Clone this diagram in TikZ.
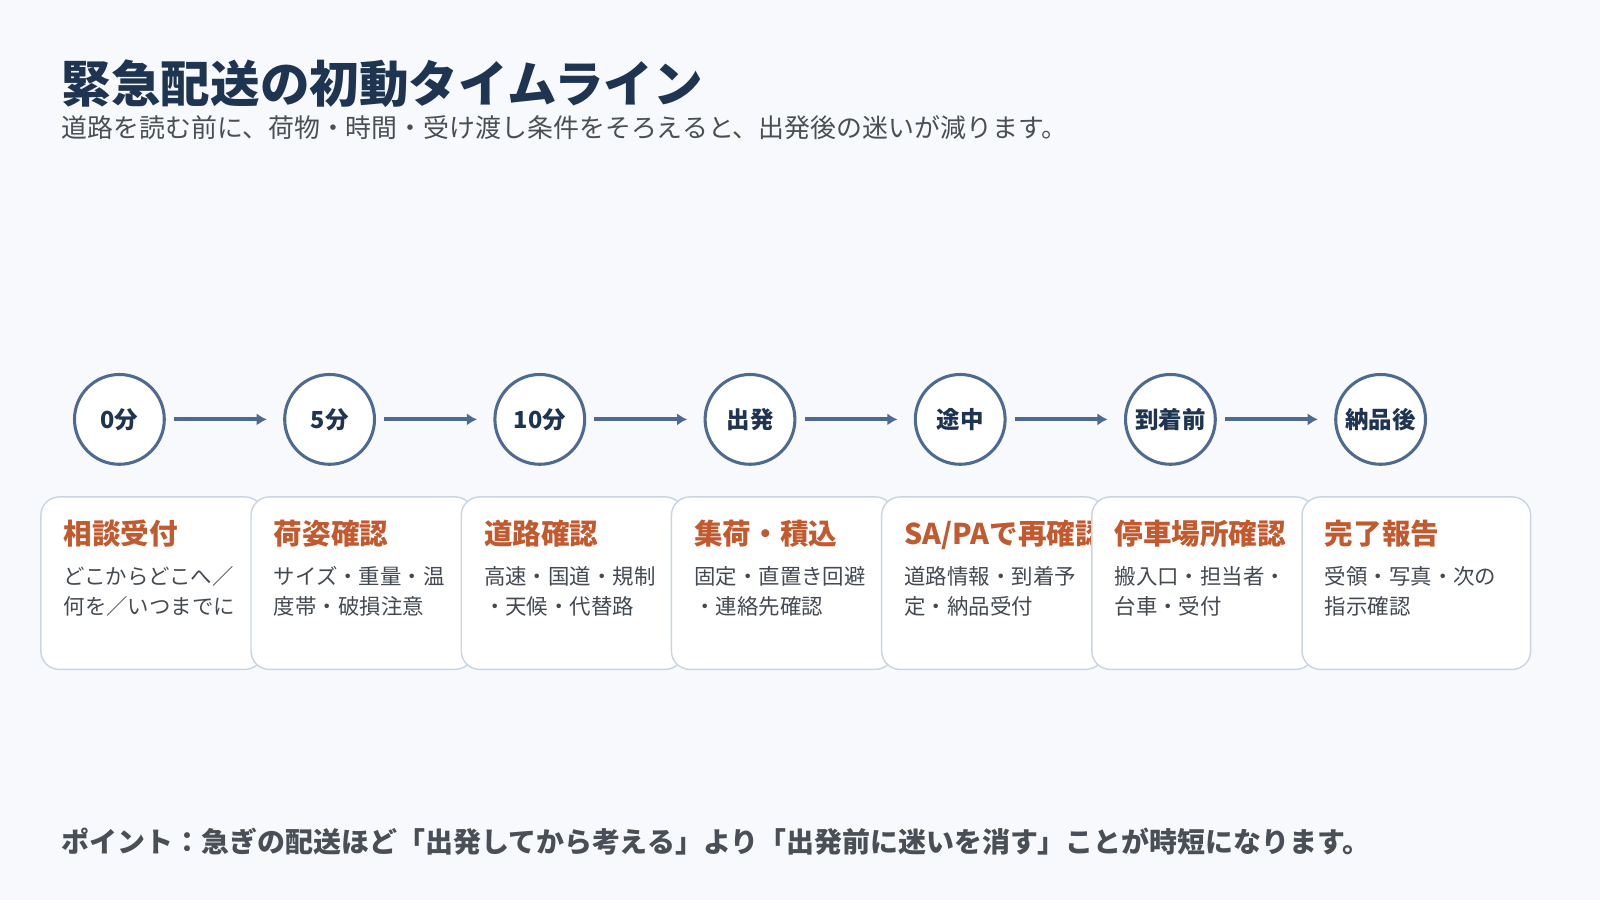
\documentclass[tikz,border=0pt]{standalone}
\usepackage{fontspec}
\setmainfont{Noto Sans CJK JP}
\usetikzlibrary{arrows.meta}
\definecolor{bg}{HTML}{F7F9FC}
\definecolor{ttl}{HTML}{1E3450}
\definecolor{sub}{HTML}{4A4F57}
\definecolor{ring}{HTML}{4E6A90}
\definecolor{card}{HTML}{C9D5E2}
\definecolor{acc}{HTML}{C25A30}
\definecolor{body}{HTML}{444A52}
\tikzset{
  stepc/.style={circle,draw=ring,line width=1.5pt,fill=white,minimum size=44pt,inner sep=0pt,font=\fontsize{11.5}{13}\selectfont\bfseries,text=ttl},
  flow/.style={draw=ring,line width=2pt,-{Latex[length=5pt,width=6pt]}},
  cardbox/.style={draw=card,line width=0.7pt,fill=white,rounded corners=9pt},
  ctitle/.style={anchor=base west,font=\fontsize{14}{16}\selectfont\bfseries,text=acc,inner sep=0pt},
  cbody/.style={anchor=base west,font=\fontsize{10.5}{14.5}\selectfont,text=body,inner sep=0pt,align=left}
}
\begin{document}
\begin{tikzpicture}[x=0.5pt,y=-0.5pt]
\fill[bg] (0,0) rectangle (1568,882);
\useasboundingbox (0,0) rectangle (1568,882);
\node[anchor=base west,inner sep=0pt,font=\fontsize{24.3}{27}\selectfont\bfseries,text=ttl] (title) at (60,100) {緊急配送の初動タイムライン};
\node[anchor=base west,inner sep=0pt,font=\fontsize{12.7}{15}\selectfont,text=sub] (subt) at (60,135) {道路を読む前に、荷物・時間・受け渡し条件をそろえると、出発後の迷いが減ります。};
% cards
\foreach \i/\x/\w/\t/\a/\b in {
 1/40/218/{相談受付}/{どこからどこへ／}/{何を／いつまでに},
 2/246/218/{荷姿確認}/{サイズ・重量・温}/{度帯・破損注意},
 3/452/218/{道路確認}/{高速・国道・規制}/{・天候・代替路},
 4/658/218/{集荷・積込}/{固定・直置き回避}/{・連絡先確認},
 5/864/218/{SA/PAで再確認}/{道路情報・到着予}/{定・納品受付},
 6/1070/218/{停車場所確認}/{搬入口・担当者・}/{台車・受付},
 7/1276/224/{完了報告}/{受領・写真・次の}/{指示確認}}{
  \draw[cardbox] (\x,487) rectangle ++(\w,169);
  \node[ctitle] (t\i) at (\x+22,534) {\t};
  \node[cbody] (b\i) at (\x+22,573) {\a};
  \node[cbody] (c\i) at (\x+22,602) {\b};
}
% circles
\node[stepc] (s1) at (117,411) {0分};
\node[stepc] (s2) at (323,411) {5分};
\node[stepc] (s3) at (529,411) {10分};
\node[stepc] (s4) at (735,411) {出発};
\node[stepc] (s5) at (941,411) {途中};
\node[stepc] (s6) at (1147,411) {到着前};
\node[stepc] (s7) at (1353,411) {納品後};
\foreach \p/\n in {1/2,2/3,3/4,4/5,5/6,6/7}{
  \draw[flow] ([xshift=4pt]s\p.east) -- ([xshift=-8pt]s\n.west);
}
\node[anchor=base west,inner sep=0pt,font=\fontsize{13.7}{16}\selectfont\bfseries,text=sub] (note) at (60,835) {ポイント：急ぎの配送ほど「出発してから考える」より「出発前に迷いを消す」ことが時短になります。};
\end{tikzpicture}
\end{document}
